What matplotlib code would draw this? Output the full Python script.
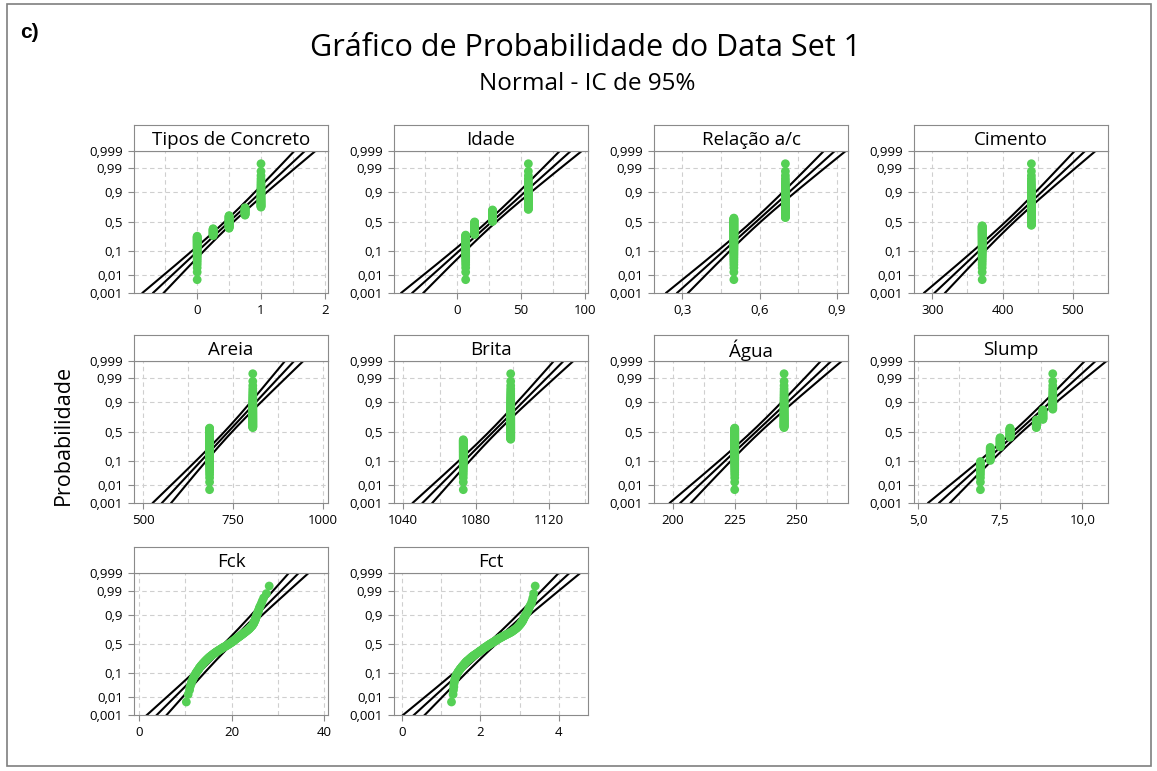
import numpy as np
import matplotlib
matplotlib.use("Agg")
import matplotlib.pyplot as plt
from matplotlib.patches import Rectangle
from statistics import NormalDist

nd = NormalDist()

# values (n = 120 for every variable)
tipos_vals = [0, 0.25, 0.5, 0.75, 1]
tipos_counts = [32, 14, 27, 15, 32]
idade_vals = [7, 14, 28, 56]
idade_counts = [34, 26, 24, 36]
ac_vals = [0.5, 0.7]
ac_counts = [68, 52]
cimento_vals = [371, 441]
cimento_counts = [52, 68]
areia_vals = [685, 805]
areia_counts = [68, 52]
brita_vals = [1073, 1099]
brita_counts = [44, 76]
agua_vals = [225, 245]
agua_counts = [68, 52]
slump_vals = [6.9, 7.2, 7.5, 7.8, 8.6, 8.8, 9.1]
slump_counts = [12, 18, 18, 20, 16, 16, 20]

fck = [10.2, 10.6, 10.9, 11.0, 11.2, 11.3, 11.5, 11.6, 11.8, 11.9,
       12.1, 12.2, 12.3, 12.5, 12.6, 12.8, 12.9, 13.0, 13.1, 13.3,
       13.4, 13.5, 13.7, 13.8, 13.9, 14.1, 14.2, 14.3, 14.5, 14.6,
       14.7, 14.9, 15.0, 15.1, 15.3, 15.4, 15.6, 15.7, 15.9, 16.0,
       16.2, 16.3, 16.5, 16.6, 16.8, 17.0, 17.1, 17.3, 17.5, 17.6,
       17.8, 18.0, 18.1, 18.3, 18.5, 18.7, 18.9, 19.0, 19.2, 19.4,
       19.5, 19.7, 19.8, 20.0, 20.1, 20.3, 20.4, 20.5, 20.7, 20.8,
       20.9, 21.1, 21.2, 21.4, 21.5, 21.7, 21.8, 22.0, 22.1, 22.3,
       22.4, 22.6, 22.7, 22.9, 23.0, 23.2, 23.3, 23.5, 23.6, 23.8,
       23.9, 24.0, 24.1, 24.3, 24.4, 24.5, 24.6, 24.7, 24.8, 24.8,
       24.9, 25.0, 25.1, 25.1, 25.2, 25.3, 25.3, 25.4, 25.5, 25.6,
       25.7, 25.8, 25.9, 26.0, 26.2, 26.4, 26.6, 26.9, 27.5, 28.1]

fct = [1.26, 1.30, 1.31, 1.32, 1.32, 1.33, 1.34, 1.35, 1.36, 1.37,
       1.39, 1.40, 1.42, 1.43, 1.45, 1.47, 1.48, 1.50, 1.52, 1.53,
       1.55, 1.57, 1.58, 1.60, 1.61, 1.63, 1.64, 1.66, 1.68, 1.70,
       1.72, 1.73, 1.75, 1.77, 1.78, 1.80, 1.82, 1.84, 1.86, 1.88,
       1.90, 1.92, 1.94, 1.96, 1.97, 1.99, 2.01, 2.03, 2.05, 2.06,
       2.08, 2.10, 2.11, 2.13, 2.15, 2.17, 2.19, 2.20, 2.22, 2.24,
       2.26, 2.28, 2.30, 2.32, 2.34, 2.36, 2.38, 2.40, 2.42, 2.44,
       2.46, 2.48, 2.50, 2.53, 2.55, 2.57, 2.60, 2.62, 2.65, 2.67,
       2.70, 2.73, 2.75, 2.78, 2.80, 2.82, 2.84, 2.86, 2.88, 2.90,
       2.92, 2.94, 2.95, 2.97, 2.98, 3.00, 3.01, 3.03, 3.04, 3.05,
       3.07, 3.08, 3.09, 3.10, 3.11, 3.12, 3.14, 3.15, 3.17, 3.18,
       3.20, 3.22, 3.23, 3.25, 3.27, 3.30, 3.32, 3.34, 3.36, 3.40]

prob_ticks = [0.001, 0.01, 0.1, 0.5, 0.9, 0.99, 0.999]
prob_labels = ["0,001", "0,01", "0,1", "0,5", "0,9", "0,99", "0,999"]

panels = [
    ("Tipos de Concreto", np.repeat(tipos_vals, tipos_counts), (-0.99, 2.05), [0, 1, 2], ["0", "1", "2"], 0.5),
    ("Idade", np.repeat(idade_vals, idade_counts), (-49, 102.6), [0, 50, 100], ["0", "50", "100"], 25),
    ("Relação a/c", np.repeat(ac_vals, ac_counts), (0.19, 0.943), [0.3, 0.6, 0.9], ["0,3", "0,6", "0,9"], 0.15),
    ("Cimento", np.repeat(cimento_vals, cimento_counts), (274, 550), [300, 400, 500], ["300", "400", "500"], 50),
    ("Areia", np.repeat(areia_vals, areia_counts), (475, 1014), [500, 750, 1000], ["500", "750", "1000"], 125),
    ("Brita", np.repeat(brita_vals, brita_counts), (1035, 1141.4), [1040, 1080, 1120], ["1040", "1080", "1120"], 20),
    ("Água", np.repeat(agua_vals, agua_counts), (192.3, 270.9), [200, 225, 250], ["200", "225", "250"], 12.5),
    ("Slump", np.repeat(slump_vals, slump_counts), (4.88, 10.78), [5.0, 7.5, 10.0], ["5,0", "7,5", "10,0"], 1.25),
    ("Fck", np.array(fck), (-1.1, 40.8), [0, 20, 40], ["0", "20", "40"], 10),
    ("Fct", np.array(fct), (-0.21, 4.75), [0, 2, 4], ["0", "2", "4"], 1),
]

W, H = 1157, 771
fig = plt.figure(figsize=(W / 100, H / 100), dpi=100)
plt.rcParams['font.family'] = ['Open Sans', 'DejaVu Sans']

col_left = [134, 394, 654, 914]
row_top = [150.7, 360.7, 573]
ax_w, ax_h, strip_h = 194, 142, 26
grey = "#8a8a8a"
green = "#55d055"

zlo, zhi = nd.inv_cdf(0.001), nd.inv_cdf(0.999)
zz = np.linspace(zlo, zhi, 200)
ytick_pos = [nd.inv_cdf(p) for p in prob_ticks]

for k, (title, data, xlim, xt, xtl, step) in enumerate(panels):
    r, c = divmod(k, 4)
    left, top = col_left[c], row_top[r]
    ax = fig.add_axes([left / W, 1 - (top + ax_h) / H, ax_w / W, ax_h / H])

    n = len(data)
    x = np.sort(data)
    p = (np.arange(1, n + 1) - 0.3) / (n + 0.4)
    z = np.array([nd.inv_cdf(v) for v in p])

    mu, sd = x.mean(), x.std()
    fit = mu + zz * sd
    half = 1.96 * sd * np.sqrt(1 / n + zz ** 2 / (2 * n))

    # grid
    g = np.arange(xt[0] - 4 * step, xt[-1] + 4 * step + 1e-9, step)
    for gx in g:
        ax.axvline(gx, color="#cfcfcf", lw=0.8, ls=(0, (4, 3)), zorder=0)
    for gy in ytick_pos[1:-1]:
        ax.axhline(gy, color="#cfcfcf", lw=0.8, ls=(0, (4, 3)), zorder=0)

    ax.plot(fit, zz, color="black", lw=1.5, zorder=2)
    ax.plot(fit - half, zz, color="black", lw=1.5, zorder=2)
    ax.plot(fit + half, zz, color="black", lw=1.5, zorder=2)
    ax.scatter(x, z, s=40, color=green, edgecolors="none", zorder=3)

    ax.set_xlim(xlim)
    ax.set_ylim(zlo, zhi)
    ax.set_xticks(xt)
    ax.set_xticklabels(xtl, fontsize=9.5)
    ax.set_yticks(ytick_pos)
    ax.set_yticklabels(prob_labels, fontsize=9.5)
    ax.tick_params(direction="out", length=4, color=grey, pad=4)
    for s in ax.spines.values():
        s.set_color(grey)

    sax = fig.add_axes([left / W, 1 - top / H, ax_w / W, strip_h / H])
    sax.set_xticks([])
    sax.set_yticks([])
    for s in sax.spines.values():
        s.set_color(grey)
    sax.text(0.5, 0.42, title, ha="center", va="center", fontsize=13.5, transform=sax.transAxes)

fig.text(585 / W, 1 - 48 / H, "Gráfico de Probabilidade do Data Set 1", ha="center", va="center", fontsize=22)
fig.text(587 / W, 1 - 84 / H, "Normal - IC de 95%", ha="center", va="center", fontsize=17.5)
fig.text(63 / W, 1 - 435 / H, "Probabilidade", ha="center", va="center", rotation=90, fontsize=15.5)
fig.text(20 / W, 1 - 32 / H, "c)", ha="left", va="center", fontsize=15, fontweight="bold",
         family="Liberation Sans")

fig.patches.append(Rectangle((7 / W, 5 / H), 1144 / W, 762 / H, transform=fig.transFigure,
                             fill=False, edgecolor="#7f7f7f", lw=1.2))

fig.savefig("out.png", dpi=100)
